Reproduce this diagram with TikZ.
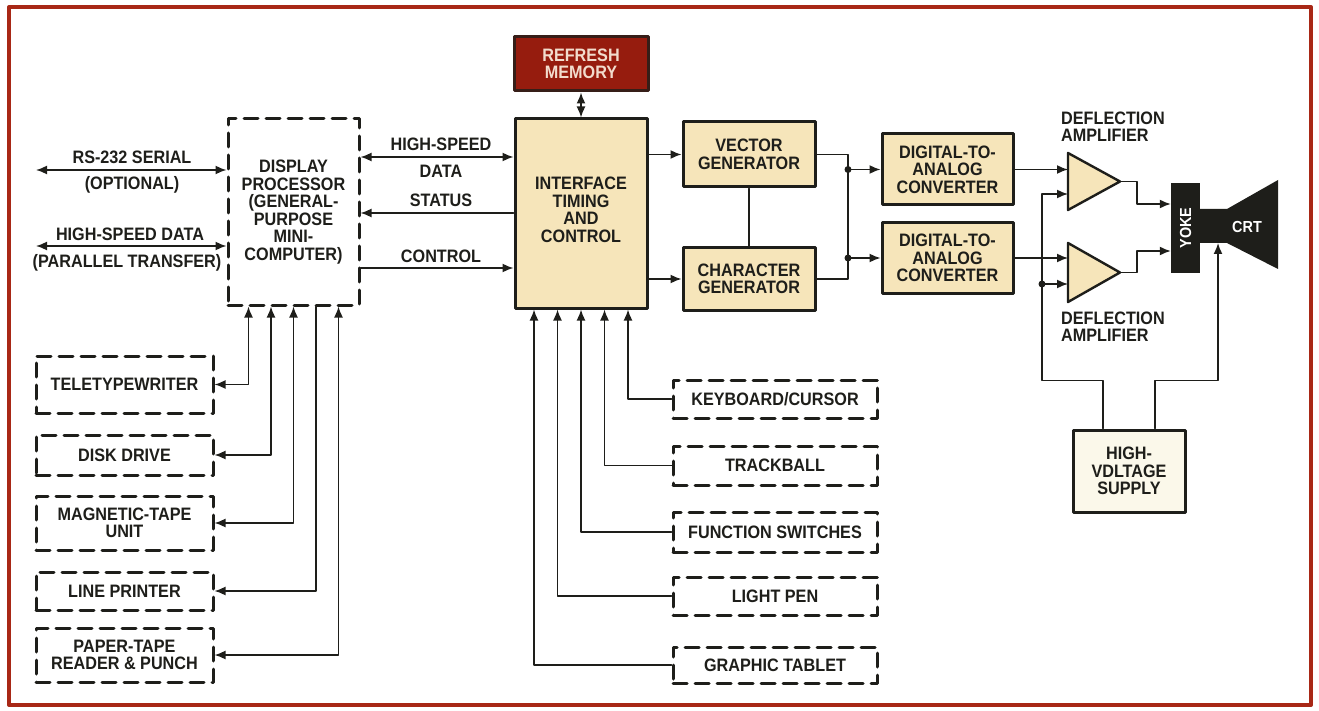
\documentclass[tikz,border=0pt]{standalone}
\usepackage{fontspec}
\setmainfont[FakeStretch=0.9]{Liberation Sans}
\usetikzlibrary{arrows.meta,positioning}

\definecolor{ink}{RGB}{30,30,26}
\definecolor{cream}{RGB}{246,229,186}
\definecolor{paleyel}{RGB}{251,248,234}
\definecolor{memred}{RGB}{150,28,14}
\definecolor{memtext}{RGB}{242,220,205}
\definecolor{framered}{RGB}{168,40,22}

\tikzset{
  lbl/.style={font=\fontsize{18}{17.5}\selectfont\bfseries,text=ink,align=center,inner sep=0pt},
  solidbox/.style={lbl,draw=ink,line width=3pt,fill=cream},
  dashbox/.style={lbl,draw=ink,line width=3pt,dash pattern=on 14pt off 8pt,fill=white},
  membox/.style={lbl,draw=ink!80!memred,line width=3pt,fill=memred,text=memtext},
  wire/.style={draw=ink,line width=1.6pt},
  amp/.style={draw=ink,line width=2.4pt,fill=cream},
}

\begin{document}
\begin{tikzpicture}[x=1pt,y=-1pt,line cap=round,line join=round,>={Latex[length=11pt,width=9pt]}]
  \useasboundingbox (0,0) rectangle (1319,711);
  \draw[framered,line width=4pt] (9,7) rectangle (1311,705);

  % main blocks
  \node[dashbox,minimum width=131pt,minimum height=186pt] (dp) at (293.5,212)
    {DISPLAY\\PROCESSOR\\(GENERAL-\\PURPOSE\\MINI-\\COMPUTER)};
  \node[solidbox,minimum width=132pt,minimum height=189pt,text depth=8pt] (itc) at (581,213.5)
    {INTERFACE\\TIMING\\AND\\CONTROL};
  \node[membox,minimum width=134pt,minimum height=54pt] (rm) at (581,64) {REFRESH\\MEMORY};
  \node[solidbox,minimum width=132pt,minimum height=65pt] (vg) at (749,154.5) {VECTOR\\GENERATOR};
  \node[solidbox,minimum width=132pt,minimum height=62pt] (cg) at (749,279) {CHARACTER\\GENERATOR};
  \node[solidbox,minimum width=131pt,minimum height=71pt] (dac1) at (947.5,169.5)
    {DIGITAL-TO-\\ANALOG\\CONVERTER};
  \node[solidbox,minimum width=131pt,minimum height=70pt] (dac2) at (947.5,258)
    {DIGITAL-TO-\\ANALOG\\CONVERTER};
  \node[solidbox,fill=paleyel,minimum width=112pt,minimum height=82pt] (hv) at (1129,471)
    {HIGH-\\VDLTAGE\\SUPPLY};

  % peripherals
  \foreach \dev/\yc/\hh/\lab in {tty/384.5/57/TELETYPEWRITER, disk/455/40/DISK DRIVE,
      mag/523/54/{MAGNETIC-TAPE\\UNIT}, lp/591/38/LINE PRINTER,
      ptape/655/54/{PAPER-TAPE\\READER \& PUNCH}}
    \node[dashbox,minimum width=177pt,minimum height=\hh pt] (\dev) at (124.5,\yc) {\lab};
  \foreach \dev/\yc/\hh/\lab in {kbd/399/38/{KEYBOARD/CURSOR}, tb/465.5/39/TRACKBALL,
      fs/532/40/FUNCTION SWITCHES, lpen/596/38/LIGHT PEN, gt/665/36/GRAPHIC TABLET}
    \node[dashbox,minimum width=204pt,minimum height=\hh pt] (\dev) at (775,\yc) {\lab};

  % amplifiers, yoke, crt
  \filldraw[amp] (1068,153) coordinate (a1top) -- (1120,181.5) coordinate (a1out) -- (1068,210) -- cycle;
  \filldraw[amp] (1068,243) coordinate (a2top) -- (1120,272.5) coordinate (a2out) -- (1068,302) -- cycle;
  \fill[ink] (1199,209) -- (1227,209) -- (1278,180) -- (1278,269) -- (1227,243)
    -- (1199,243) -- cycle;
  \coordinate (crtin) at (1218,243);
  \node[fill=ink,minimum width=29pt,minimum height=90pt,inner sep=0pt] (yoke) at (1185.5,228) {};
  \node[lbl,text=white,rotate=90,font=\fontsize{16}{16}\selectfont\bfseries] (yoketxt) at (yoke) {YOKE};
  \node[lbl,text=white,font=\fontsize{16}{16}\selectfont\bfseries] (crt) at (1247,227) {CRT};

  % links to the processor
  \coordinate (rsend) at (36,170);
  \coordinate (hsend) at (36,246);
  \draw[wire,<->] (rsend) -- (rsend -| dp.west);
  \draw[wire,<->] (hsend) -- (hsend -| dp.west);
  \foreach \dev/\dx/\tip in {tty/-45/<->, disk/-22.5/<->, mag/0/<->, lp/22.5/<-, ptape/45/<->}
    \draw[wire,\tip] (\dev.east) -| ([xshift=\dx pt]dp.south);

  \draw[wire,<->] (dp.east |- 0,157) -- (itc.west |- 0,157);
  \draw[wire,->] (itc.west |- 0,213) -- (dp.east |- 0,213);
  \draw[wire,->] (dp.east |- 0,268) -- (itc.west |- 0,268);
  \draw[wire,<->] (rm.south) -- (itc.north);

  \foreach \dev/\dx in {kbd/47, tb/23.5, fs/0, lpen/-23.5, gt/-47}
    \draw[wire,->] (\dev.west) -| ([xshift=\dx pt]itc.south);

  % generators to converters
  \draw[wire,->] (itc.east |- vg.west) -- (vg.west);
  \draw[wire,->] (itc.east |- cg.west) -- (cg.west);
  \draw[wire] (vg.south) -- (cg.north);
  \coordinate (bus) at (848,0);
  \draw[wire] (vg.east) -| (bus |- cg.east) -- (cg.east);
  \fill[ink] (bus |- dac1.west) circle (3.5pt);
  \fill[ink] (bus |- dac2.west) circle (3.5pt);
  \draw[wire,->] (bus |- dac1.west) -- (dac1.west);
  \draw[wire,->] (bus |- dac2.west) -- (dac2.west);

  % converters, amplifiers and supply
  \draw[wire,->] (dac1.east) -- (dac1.east -| a1top);
  \draw[wire,->] (dac2.east) -- (dac2.east -| a2top);
  \coordinate (bias) at (1042,0);
  \draw[wire,->] ([xshift=-26pt]hv.north) -- ++(0,-48) -| (bias |- 0,194) -- (a1top |- 0,194);
  \fill[ink] (bias |- 0,284) circle (3.5pt);
  \draw[wire,->] (bias |- 0,284) -- (a2top |- 0,284);
  \draw[wire,->] (a1out) -- ++(17,0) |- ([yshift=24pt]yoke.west);
  \draw[wire,->] (a2out) -- ++(17,0) |- ([yshift=-23pt]yoke.west);
  \draw[wire,->] ([xshift=26pt]hv.north) -- ++(0,-48) -| (crtin);

  % labels
  \node[lbl] (rslbl) at (132,157) {RS-232 SERIAL};
  \node[lbl] (optlbl) at (132,185) {(OPTIONAL)};
  \node[lbl] (hslbl) at (130,234) {HIGH-SPEED DATA};
  \node[lbl] (parlbl) at (127,263) {(PARALLEL TRANSFER)};
  \node[lbl] (hsdlbl) at (441,144) {HIGH-SPEED};
  \node[lbl] (datlbl) at (441,171) {DATA};
  \node[lbl] (stlbl) at (441,200) {STATUS};
  \node[lbl] (ctlbl) at (441,256) {CONTROL};
  \node[lbl,align=left,anchor=west] (dfl1) at (1061,126.5) {DEFLECTION\\AMPLIFIER};
  \node[lbl,align=left,anchor=west] (dfl2) at (1061,326.5) {DEFLECTION\\AMPLIFIER};
\end{tikzpicture}
\end{document}
